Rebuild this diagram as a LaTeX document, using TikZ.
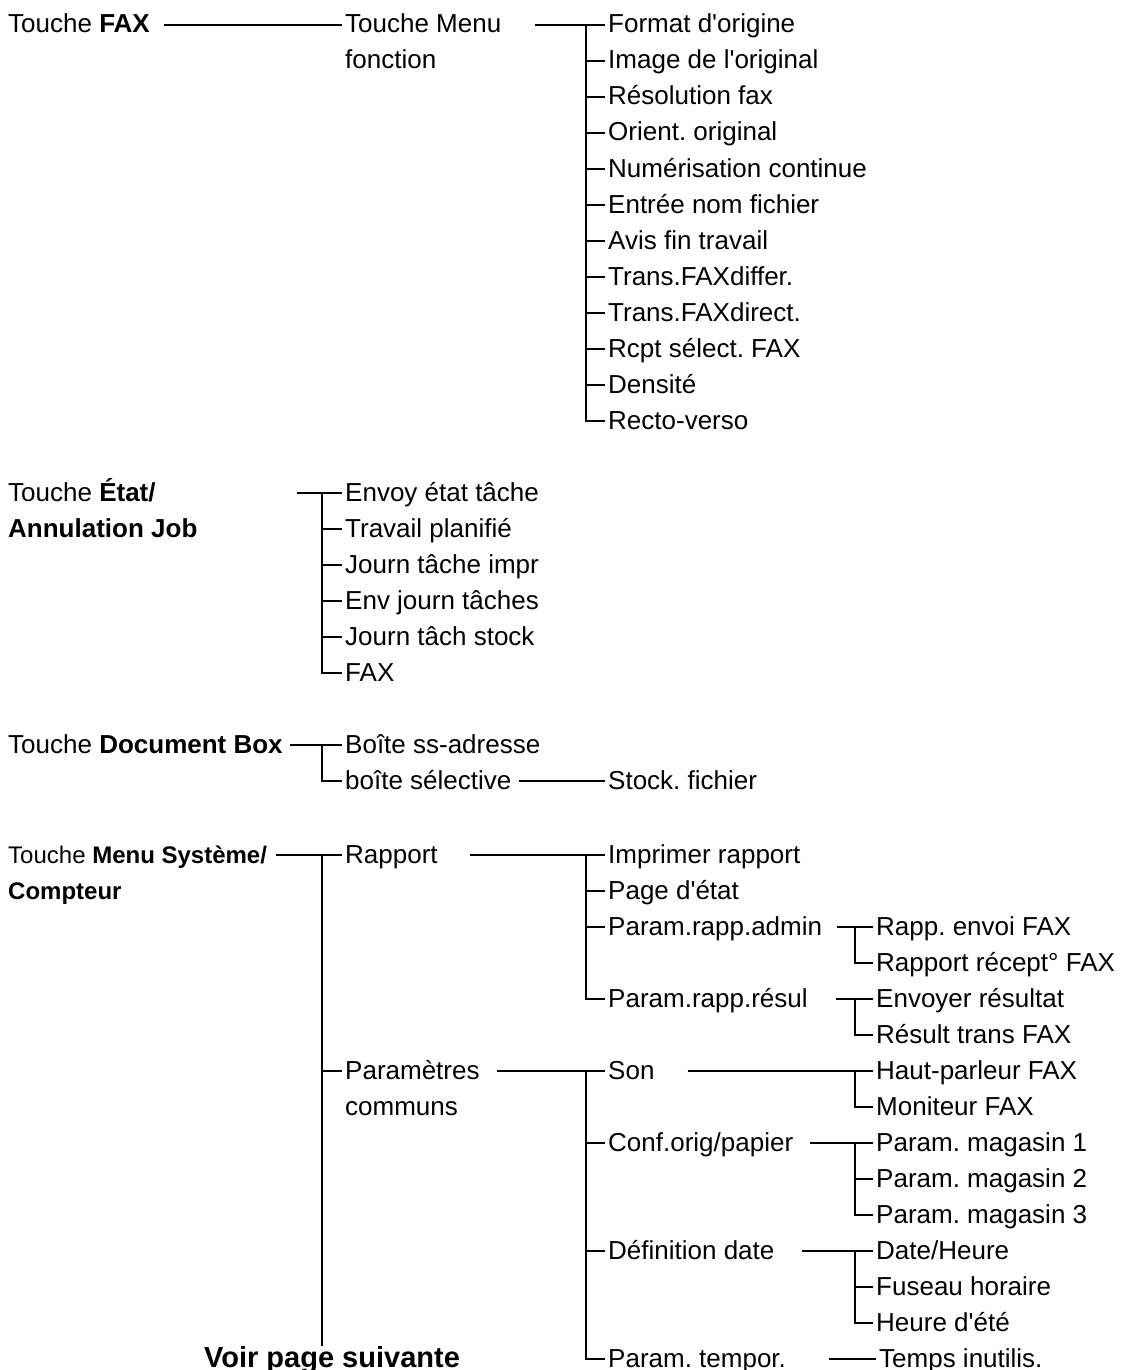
\documentclass[tikz,border=0pt]{standalone}
\usepackage{fontspec}
\setmainfont{Liberation Sans}
\usepackage{tikz}
\usetikzlibrary{calc}
\frenchspacing

\begin{document}
\begin{tikzpicture}[
    x=1pt, y=-1pt,
    entry/.style={anchor=west, inner xsep=3pt, inner ysep=0pt, text height=21pt, text depth=5pt, font=\fontsize{26}{31}\selectfont},
    smallentry/.style={entry, text height=20pt, text depth=4pt, font=\fontsize{24}{29}\selectfont},
    branch/.style={draw=black, line width=2pt}
]
\useasboundingbox[fill=white] (0,0) rectangle (1124,1370);

% Touche FAX
\node (fax) [entry] at (5,25) {Touche \textbf{FAX}};
\node (tm) [entry] at (342,25) {Touche Menu};
\node (tm2) [entry] at (342,61) {fonction};
\node (f1) [entry] at (605,25) {Format d\textquotesingle origine};
\node (f2) [entry] at (605,61) {Image de l\textquotesingle original};
\node (f3) [entry] at (605,97) {Résolution fax};
\node (f4) [entry] at (605,133) {Orient. original};
\node (f5) [entry] at (605,169) {Numérisation continue};
\node (f6) [entry] at (605,205) {Entrée nom fichier};
\node (f7) [entry] at (605,241) {Avis fin travail};
\node (f8) [entry] at (605,277) {Trans.FAXdiffer.};
\node (f9) [entry] at (605,313) {Trans.FAXdirect.};
\node (f10) [entry] at (605,349) {Rcpt sélect. FAX};
\node (f11) [entry] at (605,385) {Densité};
\node (f12) [entry] at (605,421) {Recto-verso};

\draw[branch] (fax.east) ++(11,0) -- (tm.west);
\draw[branch] (tm.east) ++(30,0) -- (f1.west);
\draw[branch] ([xshift=-19pt]f1.west) |- (f12.west);
\draw[branch] ([xshift=-19pt]f2.west) -- (f2.west);
\draw[branch] ([xshift=-19pt]f3.west) -- (f3.west);
\draw[branch] ([xshift=-19pt]f4.west) -- (f4.west);
\draw[branch] ([xshift=-19pt]f5.west) -- (f5.west);
\draw[branch] ([xshift=-19pt]f6.west) -- (f6.west);
\draw[branch] ([xshift=-19pt]f7.west) -- (f7.west);
\draw[branch] ([xshift=-19pt]f8.west) -- (f8.west);
\draw[branch] ([xshift=-19pt]f9.west) -- (f9.west);
\draw[branch] ([xshift=-19pt]f10.west) -- (f10.west);
\draw[branch] ([xshift=-19pt]f11.west) -- (f11.west);

% Touche Etat/Annulation Job
\node (etat) [entry] at (5,493) {Touche \textbf{État/}};
\node (etat2) [entry] at (5,529) {\textbf{Annulation Job}};
\node (e1) [entry] at (342,493) {Envoy état tâche};
\node (e2) [entry] at (342,529) {Travail planifié};
\node (e3) [entry] at (342,565) {Journ tâche impr};
\node (e4) [entry] at (342,601) {Env journ tâches};
\node (e5) [entry] at (342,637) {Journ tâch stock};
\node (e6) [entry] at (342,673) {FAX};

\draw[branch] (etat.east) ++(138,0) -- (e1.west);
\draw[branch] ([xshift=-20pt]e1.west) |- (e6.west);
\draw[branch] ([xshift=-20pt]e2.west) -- (e2.west);
\draw[branch] ([xshift=-20pt]e3.west) -- (e3.west);
\draw[branch] ([xshift=-20pt]e4.west) -- (e4.west);
\draw[branch] ([xshift=-20pt]e5.west) -- (e5.west);

% Touche Document Box
\node (doc) [entry] at (5,745) {Touche \textbf{Document Box}};
\node (d1) [entry] at (342,745) {Boîte ss-adresse};
\node (d2) [entry] at (342,781) {boîte sélective};
\node (st) [entry] at (605,781) {Stock. fichier};

\draw[branch] (doc.east) ++(4,0) -- (d1.west);
\draw[branch] ([xshift=-20pt]d1.west) |- (d2.west);
\draw[branch] (d2.east) ++(4,0) -- (st.west);

% Touche Menu Systeme/Compteur
\node (sys) [smallentry] at (5,855) {Touche \textbf{Menu Système/}};
\node (sys2) [smallentry] at (5,891) {\textbf{Compteur}};
\node (rap) [entry] at (342,855) {Rapport};
\node (par) [entry] at (342,1071) {Paramètres};
\node (par2) [entry] at (342,1107) {communs};
\node (voir) [anchor=base west, inner sep=0pt, font=\fontsize{29}{34}\selectfont\bfseries] at (204,1367) {Voir page suivante};

\draw[branch] (sys.east) ++(6,0) -- (rap.west);
\draw[branch] ([xshift=-20pt]rap.west) -- ($(par.west |- voir.north)+(-20,0)$);
\draw[branch] ([xshift=-20pt]par.west) -- (par.west);

% Rapport
\node (r1) [entry] at (605,855) {Imprimer rapport};
\node (r2) [entry] at (605,891) {Page d\textquotesingle état};
\node (r3) [entry] at (605,927) {Param.rapp.admin};
\node (r4) [entry] at (605,999) {Param.rapp.résul};
\node (a1) [entry] at (873,927) {Rapp. envoi FAX};
\node (a2) [entry] at (873,963) {Rapport récept° FAX};
\node (s1) [entry] at (873,999) {Envoyer résultat};
\node (s2) [entry] at (873,1035) {Résult trans FAX};

\draw[branch] (rap.east) ++(29,0) -- (r1.west);
\draw[branch] ([xshift=-19pt]r1.west) |- (r4.west);
\draw[branch] ([xshift=-19pt]r2.west) -- (r2.west);
\draw[branch] ([xshift=-19pt]r3.west) -- (r3.west);
\draw[branch] (r3.east) ++(12,0) -- (a1.west);
\draw[branch] ([xshift=-18pt]a1.west) |- (a2.west);
\draw[branch] (r4.east) ++(25,0) -- (s1.west);
\draw[branch] ([xshift=-18pt]s1.west) |- (s2.west);

% Parametres communs
\node (p1) [entry] at (605,1071) {Son};
\node (p2) [entry] at (605,1143) {Conf.orig/papier};
\node (p3) [entry] at (605,1251) {Définition date};
\node (p4) [entry] at (605,1359) {Param. tempor.};
\node (h1) [entry] at (873,1071) {Haut-parleur FAX};
\node (h2) [entry] at (873,1107) {Moniteur FAX};
\node (m1) [entry] at (873,1143) {Param. magasin 1};
\node (m2) [entry] at (873,1179) {Param. magasin 2};
\node (m3) [entry] at (873,1215) {Param. magasin 3};
\node (dt1) [entry] at (873,1251) {Date/Heure};
\node (dt2) [entry] at (873,1287) {Fuseau horaire};
\node (dt3) [entry] at (873,1323) {Heure d\textquotesingle été};
\node (ti) [entry] at (876,1359) {Temps inutilis.};

\draw[branch] (par.east) ++(14,0) -- (p1.west);
\draw[branch] ([xshift=-19pt]p1.west) |- (p4.west);
\draw[branch] ([xshift=-19pt]p2.west) -- (p2.west);
\draw[branch] ([xshift=-19pt]p3.west) -- (p3.west);
\draw[branch] (p1.east) ++(30,0) -- (h1.west);
\draw[branch] ([xshift=-18pt]h1.west) |- (h2.west);
\draw[branch] (p2.east) ++(14,0) -- (m1.west);
\draw[branch] ([xshift=-18pt]m1.west) |- (m3.west);
\draw[branch] ([xshift=-18pt]m2.west) -- (m2.west);
\draw[branch] (p3.east) ++(24,0) -- (dt1.west);
\draw[branch] ([xshift=-18pt]dt1.west) |- (dt3.west);
\draw[branch] ([xshift=-18pt]dt2.west) -- (dt2.west);
\draw[branch] (p4.east) ++(40,0) -- (ti.west);

\end{tikzpicture}
\end{document}
